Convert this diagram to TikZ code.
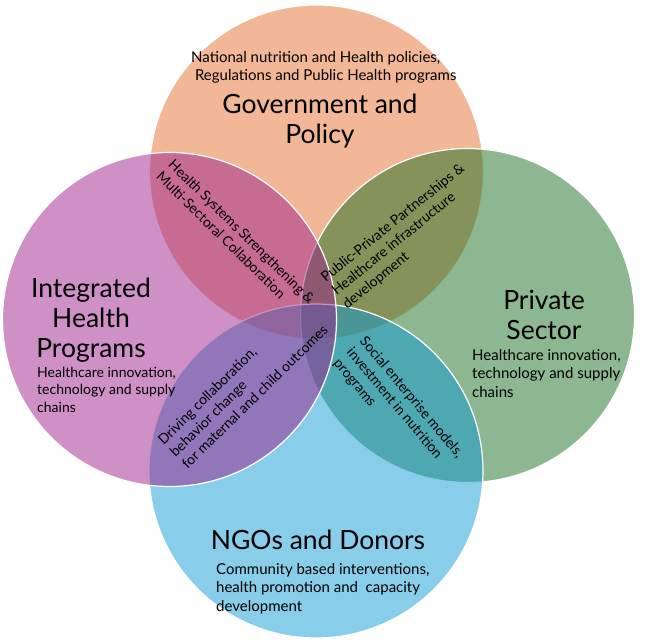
\documentclass[tikz,border=0pt]{standalone}
\usepackage{fontspec}
\setmainfont{Lato}
\usetikzlibrary{positioning}

\definecolor{govcol}{RGB}{229,111,45}
\definecolor{privcol}{RGB}{25,111,33}
\definecolor{ngocol}{RGB}{17,155,213}
\definecolor{ihpcol}{RGB}{157,33,139}

\begin{document}
\begin{tikzpicture}[x=1pt,y=-1pt]
\tikzstyle{ring} = [circle, draw=white, line width=1.2pt, fill opacity=0.5, minimum size=334pt, inner sep=0pt]
\tikzstyle{title} = [inner sep=0pt, align=center, font=\fontsize{26.5}{30}\selectfont]
\tikzstyle{blurb} = [inner sep=0pt, align=left, anchor=base west, font=\fontsize{15}{18.3}\selectfont]
\tikzstyle{lens} = [inner sep=0pt, align=left, anchor=west, font=\fontsize{14}{17}\selectfont]

\useasboundingbox (0,0) rectangle (656,642);

% the four circles, top one lowest
\node [ring, fill=govcol] (gov) at (316.5,172) {};
\node [ring, fill=privcol] (priv) at (467.5,315.5) {};
\node [ring, fill=ngocol] (ngo) at (316,471) {};
\node [ring, fill=ihpcol] (ihp) at (169.5,319.5) {};

% government
\node [blurb] (govblurb) at (191,81) {National nutrition and Health policies,\\ \ Regulations and Public Health programs};
\node [title] (govtitle) at (320,121) {Government and\\Policy};

% integrated health programs
\node [title] (ihptitle) at (91,320) {Integrated\\Health\\Programs};
\node [blurb, font=\fontsize{14}{17.5}\selectfont] (ihpblurb) at (37,412) {Healthcare innovation,\\technology and supply\\chains};

% private sector
\node [title] (privtitle) at (544,315) {Private\\Sector};
\node [blurb] (privblurb) at (472,397) {Healthcare innovation,\\technology and supply\\chains};

% ngos and donors
\node [title, anchor=base] (ngotitle) at (318,549) {NGOs and Donors};
\node [blurb] (ngoblurb) at (216,611) {Community based interventions,\\health promotion and\ \ capacity\\development};

% overlaps
\node [lens, rotate=-44.5] (hss) at (165,168) {Health Systems Strengthening \&\\Multi-Sectoral Collaboration};
\node [lens, rotate=39] (ppp) at (334,293) {Public-Private Partnerships \&\\Healthcare infrastructure\\development};
\node [lens, rotate=44.5] (drive) at (172,454) {Driving collaboration,\\behavior change\\for maternal and child outcomes};
\node [lens, rotate=-50] (social) at (349,350) {Social enterprise models,\\investment in nutrition\\programs};

\end{tikzpicture}
\end{document}
